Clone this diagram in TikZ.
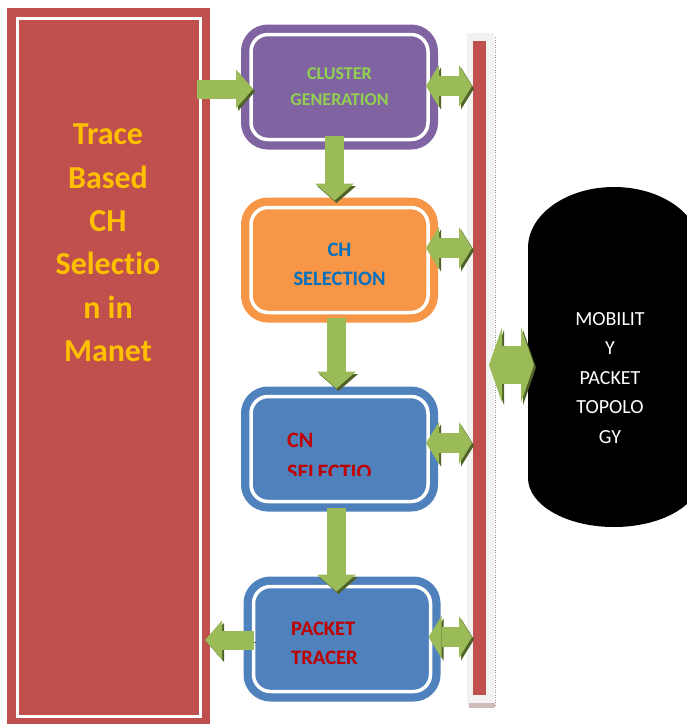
\documentclass[tikz,border=0pt]{standalone}
\usepackage{fontspec}
\setmainfont{Carlito}[Ligatures={NoCommon,NoContextual}]
\usetikzlibrary{positioning,arrows.meta,calc}
\definecolor{tbsRed}{HTML}{C0504D}
\definecolor{tbsPurple}{HTML}{8064A2}
\definecolor{tbsOrange}{HTML}{F79646}
\definecolor{tbsBlue}{HTML}{4F81BD}
\definecolor{tbsGreen}{HTML}{9BBB59}
\definecolor{tbsGreenDk}{HTML}{4F6228}
\definecolor{tbsGold}{HTML}{FFC000}
\definecolor{tbsLime}{HTML}{92D050}
\definecolor{tbsInk}{HTML}{0070C0}
\definecolor{tbsDarkRed}{HTML}{C00000}
\definecolor{tbsBarBg}{HTML}{F2F2F2}
\definecolor{tbsRule}{HTML}{A88686}
\tikzset{
  stage/.style={
    fill=#1, draw=white, line width=3.5pt, rounded corners=17pt,
    preaction={draw=#1, line width=20pt},
    minimum width=177pt, minimum height=105pt, inner sep=0pt, outer sep=0pt,
    align=center, font=\bfseries},
  gshadow/.style={preaction={draw=tbsGreenDk, transform canvas={shift={(2pt,-2.5pt)}}}},
  gflow/.style={gshadow, draw=tbsGreen, line width=19pt,
    -{Triangle[length=17pt,width=39pt,line width=0pt]}},
  gboth/.style={gshadow, draw=tbsGreen, line width=20pt,
    {Triangle[length=13pt,width=42pt,line width=0pt]}-{Triangle[length=13pt,width=42pt,line width=0pt]}},
  gbig/.style={gshadow, draw=tbsGreen, line width=38pt,
    {Triangle[length=13pt,width=75pt,line width=0pt]}-{Triangle[length=13pt,width=75pt,line width=0pt]}},
  rulerline/.style={draw=tbsRule, line width=0.8pt, dash pattern=on 1pt off 1.5pt},
  steptext/.style={anchor=north west, inner sep=0pt, align=left, text=tbsDarkRed},
}

\begin{document}
\begin{tikzpicture}[x=1pt,y=-1pt]
\useasboundingbox (0,0) rectangle (687,724);
\clip (0,0) rectangle (687,724);

\node[stage=tbsRed, sharp corners, line width=3pt, minimum width=183pt, minimum height=698pt]
  (trace) at (108.5,367) {};
\node[font=\fontsize{32}{43.4}\selectfont\bfseries, text=tbsGold, align=center] (tracetxt)
  at (108,243) {Trace\\Based\\CH\\Selec\kern0pt t\kern0pt io\\n in\\Manet};

\node[stage=tbsPurple, text=tbsLime, font=\fontsize{18}{26}\selectfont\bfseries]
  (cluster) at (339.5,87) {CLUSTER\\GENERATION};
\node[stage=tbsOrange, below=68pt of cluster] (ch) {};
\node[stage=tbsBlue, below=84pt of ch] (cn) {};
\node[stage=tbsBlue, below=85pt of cn, xshift=2.5pt] (packet) {};

\node[text=tbsInk, align=center, font=\fontsize{20.5}{29}\selectfont\bfseries] (chtxt)
  at ($(ch)+(0,4)$) {CH\\SELECTION};
\begin{scope}
  \clip (cn.north west) rectangle ($(cn.east)+(0,26)$);
  \node[steptext, font=\fontsize{22}{32}\selectfont\bfseries] (cntxt) at (287,433) {CN\\SELECTIO};
\end{scope}
\node[steptext, font=\fontsize{20.6}{29}\selectfont\bfseries] (packettxt) at (291,621.5)
  {PACKET\\TRACER};

\node[fill=tbsBarBg, minimum width=27pt, minimum height=672pt, inner sep=0pt, outer sep=0pt]
  (bar) at (480.5,369) {};
\node[fill=tbsRed, minimum width=13pt, minimum height=654pt, inner sep=0pt, outer sep=0pt]
  (redbar) at (479.5,368) {};
\draw[rulerline] ($(bar.north east)+(1,4)$) -- ($(bar.south east)+(1,0)$);
\fill[tbsRule!55] ($(bar.south west)+(2,-2)$) rectangle ($(bar.south east)+(1,3)$);

\coordinate (mobility) at (528,365);
\fill[black] (528,248) arc[start angle=180, end angle=360, x radius=86, y radius=61]
  -- (700,478) arc[start angle=0, end angle=180, x radius=86, y radius=49] -- cycle;
\node[text=white, align=center, font=\fontsize{20}{29.5}\selectfont] (mobtxt)
  at (610,378) {MOBILIT\\Y\\PACKET\\TOPOLO\\GY};

\draw[gflow] ($(trace.east |- cluster.west)+(-3,2)$) -- ($(cluster.west)+(2,2)$);
\draw[gflow] ($(cluster.south)+(-5,-4)$) -- ($(ch.north)+(-5,-7)$);
\draw[gflow] ($(ch.south)+(-3,5)$) -- ($(cn.north)+(-3,-8)$);
\draw[gflow] ($(cn.south)+(-3,6)$) -- ($(cn.south |- packet.north)+(-3,5)$);
\draw[gflow] ($(packet.west)+(0,1)$) -- ($(trace.east |- packet.west)+(5,1)$);

\draw[gboth] ($(cluster.east)+(-2,-1)$) -- ($(redbar.west |- cluster.east)+(-1,-1)$);
\draw[gboth] ($(ch.east)+(-2,-12)$) -- ($(redbar.west |- ch.east)+(-1,-12)$);
\draw[gboth] ($(cn.east)+(-2,-6)$) -- ($(redbar.west |- cn.east)+(-1,-6)$);
\draw[gboth] ($(packet.east)+(-2,-2)$) -- ($(redbar.west |- packet.east)+(-1,-2)$);

\draw[gbig] ($(bar.east)+(-5,-4)$) -- ($(mobility)+(6,0)$);

\end{tikzpicture}
\end{document}
